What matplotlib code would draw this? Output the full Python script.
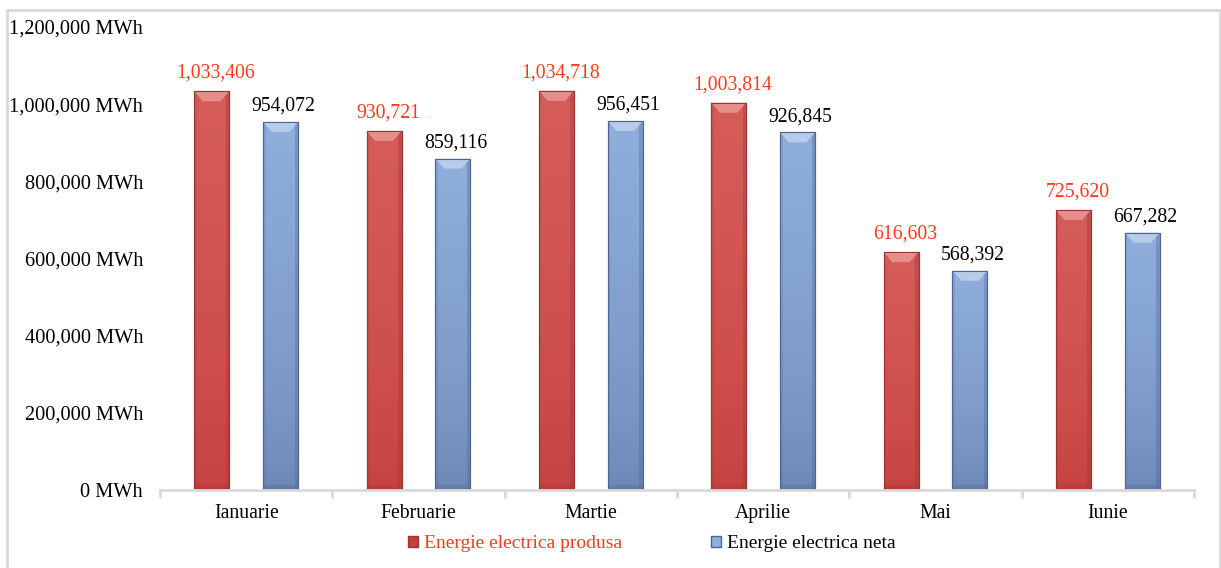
import numpy as np
import matplotlib
matplotlib.use("Agg")
import matplotlib.pyplot as plt
from matplotlib.patches import Rectangle, Polygon
from matplotlib.ticker import FuncFormatter, FixedLocator

months = ["Ianuarie", "Februarie", "Martie", "Aprilie", "Mai", "Iunie"]
produsa = [1033406, 930721, 1034718, 1003814, 616603, 725620]
neta = [954072, 859116, 956451, 926845, 568392, 667282]
series_names = ["Energie electrica produsa", "Energie electrica neta"]

plt.rcParams['font.family'] = ['Liberation Serif', 'DejaVu Serif']
plt.rcParams['font.size'] = 14

RED_LABEL = '#FF3A1C'
red_top, red_bot, red_edge, red_bevel = '#D65C5A', '#C4403E', '#9B3533', '#E99896'
blue_top, blue_bot, blue_edge, blue_bevel = '#8FAEDC', '#6A85B3', '#4F6790', '#BFD2EE'

fig = plt.figure(figsize=(12.21, 5.68), dpi=100)
ax = fig.add_axes([160/1221, 1-490/568, (1194-160)/1221, (490-27)/568])

x = np.arange(len(months))
w = 0.203
off = 0.2

def grad_bars(xs, vals, ctop, cbot, cedge, cbevel):
    bars = ax.bar(xs, vals, w, color=cbot, edgecolor=cedge, linewidth=0.8, zorder=2)
    cmap = matplotlib.colors.LinearSegmentedColormap.from_list('g', [cbot, ctop])
    for b in bars:
        x0, y0 = b.get_x(), b.get_y()
        bw, bh = b.get_width(), b.get_height()
        grad = np.linspace(0, 1, 256).reshape(-1, 1)
        grad = grad ** 0.6
        im = ax.imshow(grad, cmap=cmap, origin='lower', aspect='auto',
                       extent=[x0, x0 + bw, y0, y0 + bh], zorder=2.1)
        im.set_clip_path(b)
        # side shading
        sd = bw * 0.1
        ax.add_patch(Rectangle((x0 + bw - sd, y0), sd, bh, color=cedge, alpha=0.35, lw=0, zorder=2.2))
        ax.add_patch(Rectangle((x0, y0), sd * 0.7, bh, color=cedge, alpha=0.18, lw=0, zorder=2.2))
        # bottom shadow
        ax.add_patch(Rectangle((x0, y0), bw, 12000, color=cedge, alpha=0.25, lw=0, zorder=2.2))
        # top bevel
        d = bw * 0.25
        dy = 26000
        top = y0 + bh
        ax.add_patch(Polygon([(x0, top), (x0 + bw, top), (x0 + bw - d, top - dy), (x0 + d, top - dy)],
                             closed=True, color=cbevel, alpha=0.85, lw=0, zorder=2.3))
        ax.add_patch(Rectangle((x0, y0), bw, bh, fill=False, ec=cedge, lw=0.8, zorder=2.4))
    return bars

b1 = grad_bars(x - off, produsa, red_top, red_bot, red_edge, red_bevel)
b2 = grad_bars(x + off, neta, blue_top, blue_bot, blue_edge, blue_bevel)

for xi, v in zip(x - off, produsa):
    ax.annotate(f"{v:,}", (xi, v), xytext=(3, 6), textcoords='offset points',
                ha='center', va='bottom', color=RED_LABEL, fontsize=14.2)
for xi, v in zip(x + off, neta):
    ax.annotate(f"{v:,}", (xi, v), xytext=(2, 4.5), textcoords='offset points',
                ha='center', va='bottom', color='black', fontsize=14.2)

ax.set_xlim(-0.5, len(months) - 0.5)
ax.set_ylim(0, 1200000)
ax.set_yticks(np.arange(0, 1200001, 200000))
ax.yaxis.set_major_formatter(FuncFormatter(lambda v, p: f"{int(v):,} MWh"))
ax.tick_params(axis='y', length=0, pad=12.2, labelsize=14.7)
ax.set_xticks(x)
ax.set_xticklabels(months)
ax.tick_params(axis='x', which='major', length=0, pad=10, labelsize=14.2)
ax.xaxis.set_minor_locator(FixedLocator(np.arange(-0.5, len(months), 1.0)))
ax.tick_params(axis='x', which='minor', length=6, width=2, color='#D9D9D9', direction='out')
for s in ['top', 'right', 'left']:
    ax.spines[s].set_visible(False)
ax.spines['bottom'].set_color('#D9D9D9')
ax.spines['bottom'].set_linewidth(2)

# legend
h1 = Rectangle((0, 0), 1, 1, fc=red_bot, ec=red_edge)
h2 = Rectangle((0, 0), 1, 1, fc=blue_top, ec=blue_edge)
leg = fig.legend([h1, h2], series_names, loc='center', bbox_to_anchor=(652/1221, 1-544/568),
                 ncol=2, frameon=False, handlelength=0.5, handleheight=0.5, handletextpad=0.3,
                 columnspacing=4.6, fontsize=14)
leg.get_texts()[0].set_color(RED_LABEL)

# figure border
fig.patches.append(Rectangle((7/1221, -0.02), (1220-7)/1221, 1-9.5/568 + 0.02, transform=fig.transFigure,
                             fill=False, ec='#D9D9D9', lw=2))

fig.savefig('out.png', dpi=100)
